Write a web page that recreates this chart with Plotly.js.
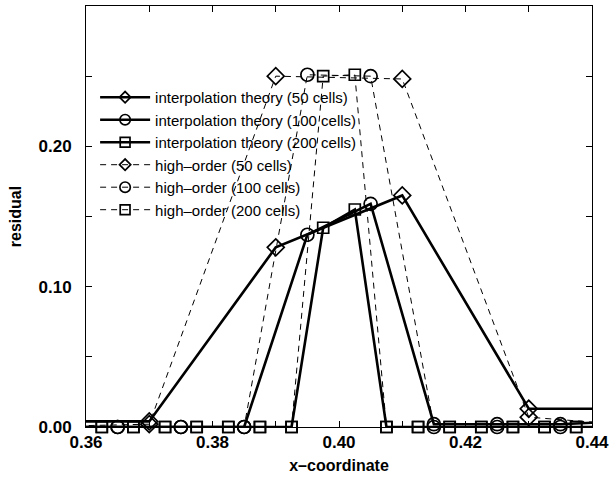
<!DOCTYPE html>
<html>
<head>
<meta charset="utf-8">
<script src="https://cdn.plot.ly/plotly-3.0.1.min.js"></script>
<style>html,body{margin:0;padding:0;background:#fff;}#chart{width:610px;height:478px;}</style>
</head>
<body>
<div id="chart"></div>
<script>
// ---- data ----
const x50 = [0.35, 0.37, 0.39, 0.41, 0.43, 0.45];
const interp50 = [0.004, 0.004, 0.128, 0.165, 0.013, 0.013];
const high50 = [0.0, 0.002, 0.250, 0.248, 0.007, 0.0];

const x100 = [0.355, 0.365, 0.375, 0.385, 0.395, 0.405, 0.415, 0.425, 0.435, 0.445];
const interp100 = [0.0, 0.0, 0.0, 0.0, 0.137, 0.159, 0.002, 0.002, 0.002, 0.004];
const high100 = [0.0, 0.0, 0.0, 0.0, 0.251, 0.250, 0.0, 0.0, 0.0, 0.0];

const x200 = [0.3575, 0.3625, 0.3675, 0.3725, 0.3775, 0.3825, 0.3875, 0.3925, 0.3975,
              0.4025, 0.4075, 0.4125, 0.4175, 0.4225, 0.4275, 0.4325, 0.4375, 0.4425];
const interp200 = [0, 0, 0, 0, 0, 0, 0, 0, 0.142, 0.155, 0, 0, 0, 0, 0, 0, 0, 0];
const high200 = [0, 0, 0, 0, 0, 0, 0, 0, 0.250, 0.251, 0, 0, 0, 0, 0, 0, 0, 0];

const seriesNames = [
  'interpolation theory (50 cells)',
  'interpolation theory (100 cells)',
  'interpolation theory (200 cells)',
  'high–order (50 cells)',
  'high–order (100 cells)',
  'high–order (200 cells)'
];

const xTickVals = [0.36, 0.38, 0.40, 0.42, 0.44];
const xTickText = ['0.36', '0.38', '0.40', '0.42', '0.44'];
const yTickVals = [0.0, 0.10, 0.20];
const yTickText = ['0.00', '0.10', '0.20'];
const xRange = [0.36, 0.44];
const yRange = [0.0, 0.30];

// ---- styling ----
const FONT = 'Liberation Sans, Arial, Helvetica, sans-serif';
function sizes(xs, s) { return xs.map(v => (v < xRange[0] - 1e-9 || v > xRange[1] + 1e-9) ? 0 : s); }

function trace(xs, ys, name, symbol, solid, msize) {
  return {
    x: xs, y: ys, name: name, type: 'scatter', mode: 'lines+markers',
    cliponaxis: false,
    line: solid ? {color: '#000', width: 2.6} : {color: '#000', width: 1, dash: '6px,5px'},
    marker: {symbol: symbol, size: sizes(xs, msize), color: '#000', opacity: 1,
             line: {color: '#000', width: 1.7}}
  };
}

const data = [
  trace(x50, interp50, seriesNames[0], 'diamond-open', true, 13),
  trace(x100, interp100, seriesNames[1], 'circle-open', true, 13),
  trace(x200, interp200, seriesNames[2], 'square-open', true, 11),
  trace(x50, high50, seriesNames[3], 'diamond-open', false, 13),
  trace(x100, high100, seriesNames[4], 'circle-open', false, 13),
  trace(x200, high200, seriesNames[5], 'square-open', false, 11)
];

const layout = {
  width: 610, height: 478,
  margin: {l: 86, r: 18, t: 6, b: 51},
  paper_bgcolor: '#fff', plot_bgcolor: '#fff',
  font: {family: FONT, color: '#000'},
  showlegend: true,
  legend: {
    x: 0.018, y: 0.822, xanchor: 'left', yanchor: 'top',
    bgcolor: 'rgba(0,0,0,0)', borderwidth: 0,
    font: {family: FONT, size: 15, color: '#000'},
    itemwidth: 50, tracegroupgap: 0
  },
  xaxis: {
    range: xRange, tickmode: 'array', tickvals: xTickVals, ticktext: xTickText,
    ticks: 'inside', ticklen: 6, tickcolor: '#000', tickwidth: 1,
    minor: {tick0: 0.36, dtick: 0.01, ticks: 'inside', ticklen: 6, tickcolor: '#000', showgrid: false},
    showline: true, linecolor: '#000', linewidth: 1, mirror: 'allticks',
    showgrid: false, zeroline: false,
    tickfont: {family: FONT, size: 17, weight: 'bold', color: '#000'},
    title: {text: 'x–coordinate', font: {family: FONT, size: 16, weight: 'bold', color: '#000'}, standoff: 8}
  },
  yaxis: {
    range: yRange, tickmode: 'array', tickvals: yTickVals, ticktext: yTickText,
    ticks: 'inside', ticklen: 6, tickcolor: '#000', tickwidth: 1,
    minor: {tick0: 0, dtick: 0.05, ticks: 'inside', ticklen: 6, tickcolor: '#000', showgrid: false},
    showline: true, linecolor: '#000', linewidth: 1, mirror: 'allticks',
    showgrid: false, zeroline: false,
    ticklabelstandoff: 10,
    tickfont: {family: FONT, size: 17, weight: 'bold', color: '#000'},
    title: {text: 'residual', font: {family: FONT, size: 16, weight: 'bold', color: '#000'}, standoff: 12}
  }
};

Plotly.newPlot('chart', data, layout, {displayModeBar: false, staticPlot: true});
</script>
</body>
</html>
